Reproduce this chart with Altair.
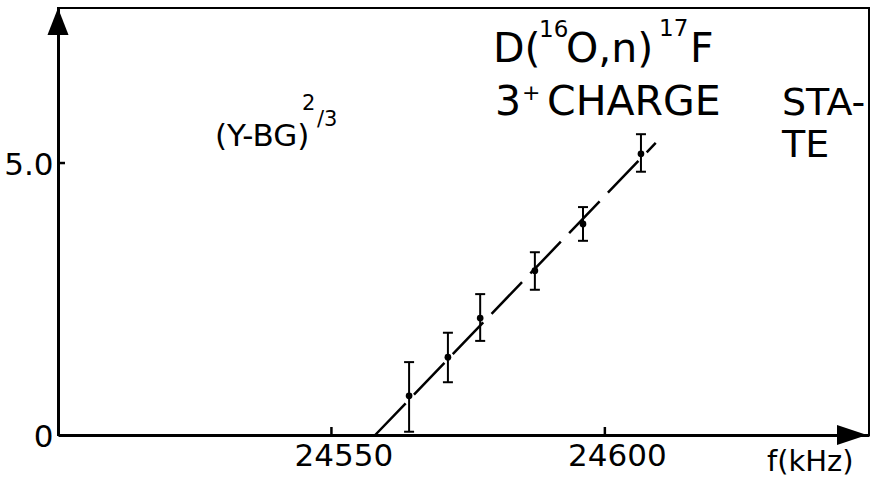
import altair as alt
import pandas as pd

# ---- data ----
freq = [24564.2, 24571.3, 24577.2, 24587.2, 24596.0, 24606.6]
yval = [0.72, 1.43, 2.15, 3.02, 3.88, 5.17]
err_lo = [0.06, 0.97, 1.73, 2.67, 3.57, 4.84]
err_hi = [1.34, 1.88, 2.59, 3.36, 4.19, 5.53]
fit_f = [24558.0, 24609.3]
fit_y = [0.0, 5.37]
x_ticks = [24550, 24600]
y_ticks = [0, 5]
X_DOM = [24500, 24648.3]
Y_DOM = [0, 7.85]

# annotation texts
ann_text = ["(Y-BG)", "2", "/3", "D(", "16", "O,n)", "17", "F",
            "3", "+", "CHARGE", "STA-", "TE", "f(kHz)"]

# ---- layout / style ----
W, H = 811, 427
L, T = 58, 8
FONT = "DejaVu Sans"
ann_pos = [(215, 146, 31), (302, 110, 21), (317, 126, 21),
           (493, 62, 41), (539, 37, 23), (566, 62, 41), (659, 36, 23), (690, 62, 41),
           (495, 115, 41), (522, 100, 22), (547, 115, 41), (782, 115, 38), (782, 157, 38),
           (767, 471, 29)]

xs = alt.Scale(domain=X_DOM, nice=False, zero=False)
ys = alt.Scale(domain=Y_DOM, nice=False, zero=False)

pts = pd.DataFrame({"f": freq, "y": yval, "lo": err_lo, "hi": err_hi})
fit = pd.DataFrame({"f": fit_f, "y": fit_y})

x_axis = alt.Axis(values=x_ticks, format="d", title=None, grid=False, ticks=False,
                  domainColor="black", domainWidth=3, labelFont=FONT, labelFontSize=31,
                  labelColor="black", labelPadding=6, labelOffset=12, labelBaseline="top",
                  labelFlush=False, labelOverlap=False, labelBound=False)
y_axis = alt.Axis(values=y_ticks, title=None, grid=False, ticks=False,
                  labelExpr="datum.value == 0 ? '0' : format(datum.value, '.1f')",
                  domainColor="black", domainWidth=3, labelFont=FONT, labelFontSize=31,
                  labelColor="black", labelPadding=5, labelOffset=2,
                  labelFlush=False, labelOverlap=False, labelBound=False)

bars = alt.Chart(pts).mark_rule(color="black", strokeWidth=2).encode(
    x=alt.X("f:Q", scale=xs, axis=x_axis),
    y=alt.Y("lo:Q", scale=ys, axis=y_axis),
    y2="hi:Q",
)
cap_lo = alt.Chart(pts).mark_tick(orient="horizontal", size=10, thickness=2, color="black", opacity=1).encode(
    x=alt.X("f:Q", scale=xs), y=alt.Y("lo:Q", scale=ys))
cap_hi = alt.Chart(pts).mark_tick(orient="horizontal", size=10, thickness=2, color="black", opacity=1).encode(
    x=alt.X("f:Q", scale=xs), y=alt.Y("hi:Q", scale=ys))
dots = alt.Chart(pts).mark_circle(size=45, color="black", opacity=1).encode(
    x=alt.X("f:Q", scale=xs), y=alt.Y("y:Q", scale=ys))
line = alt.Chart(fit).mark_line(color="black", strokeWidth=2.5, strokeDash=[44, 12]).encode(
    x=alt.X("f:Q", scale=xs), y=alt.Y("y:Q", scale=ys))

xt = alt.Chart(pd.DataFrame({"f": x_ticks})).mark_rule(color="black", strokeWidth=2.5).encode(
    x=alt.X("f:Q", scale=xs), y=alt.value(H - 8), y2=alt.value(H))
yt = alt.Chart(pd.DataFrame({"y": [5.0]})).mark_rule(color="black", strokeWidth=2.5).encode(
    y=alt.Y("y:Q", scale=ys), x=alt.value(0), x2=alt.value(7))

one = pd.DataFrame({"k": [0]})
arrow_y = alt.Chart(one).mark_point(shape="M0,0 L-0.78,2 L0.78,2 Z", filled=True, size=729,
                                    color="black", opacity=1, strokeWidth=0).encode(
    x=alt.value(0), y=alt.value(0))
arrow_x = alt.Chart(one).mark_point(shape="M0,0 L-2,-0.67 L-2,0.67 Z", filled=True, size=900,
                                    color="black", opacity=1, strokeWidth=0).encode(
    x=alt.value(867 - L), y=alt.value(H))

texts = []
for s, (px, py, fs) in zip(ann_text, ann_pos):
    texts.append(
        alt.Chart(pd.DataFrame({"t": [s]})).mark_text(
            font=FONT, fontSize=fs, color="black", align="left", baseline="alphabetic"
        ).encode(text="t:N", x=alt.value(px - L), y=alt.value(py - T))
    )

chart = alt.layer(bars, cap_lo, cap_hi, line, dots, xt, yt, arrow_y, arrow_x, *texts).properties(
    width=W, height=H,
    autosize=alt.AutoSizeParams(type="none"),
    padding={"left": L, "top": T, "right": 875 - L - W, "bottom": 481 - T - H},
    background="white",
).configure_view(stroke="black", strokeWidth=2)

chart.save("out.html", embed_options={"renderer": "svg", "actions": False})
